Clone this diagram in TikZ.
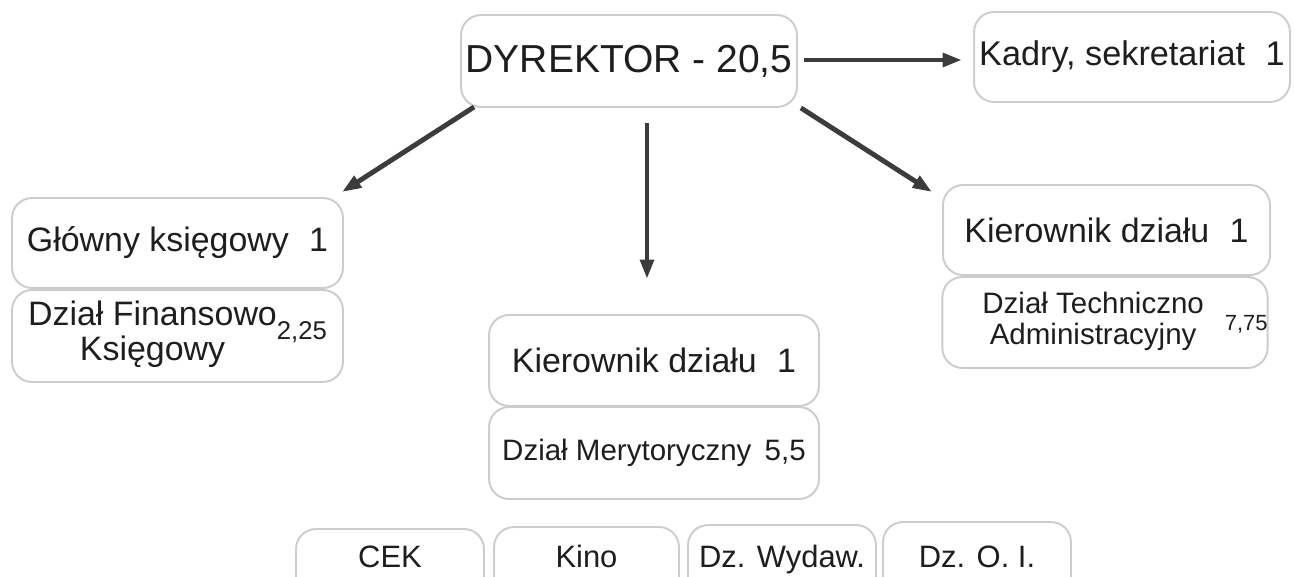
\documentclass[tikz,border=0pt]{standalone}
\usepackage{fontspec}
\setmainfont{Liberation Sans}
\usetikzlibrary{positioning}
\usetikzlibrary{arrows.meta}
\usepackage{xcolor}
\definecolor{ramka}{HTML}{CDCDCD}
\definecolor{strzalka}{HTML}{3C3C3C}
\definecolor{napis}{HTML}{1E1E1E}

\begin{document}
\begin{tikzpicture}[x=0.02cm, y=-0.02cm,
    orgbox/.style={draw=ramka, line width=1.1pt, rounded corners=0.4cm, fill=white, text=napis, inner sep=0pt},
    smallbox/.style={orgbox, minimum width=3.76cm, text height=0.72em, text depth=0.22em, font=\fontsize{17.6}{19}\selectfont},
    link/.style={-{Triangle[length=11pt,width=7.5pt]}, line width=2.8pt, draw=strzalka}]
            % Organisation chart of the institution
            \useasboundingbox (0,0) rectangle (1295,577);
            \clip (0,0) rectangle (1295,577);

            \node[orgbox, minimum width=6.72cm, minimum height=1.84cm, font=\fontsize{22.2}{24}\selectfont] (dyr) at (629,61) {DYREKTOR - 20,5};
            \node[orgbox, minimum width=6.32cm, minimum height=1.8cm, font=\fontsize{19.5}{21}\selectfont] (kadry) at (1132,57) {Kadry, sekretariat\hspace{0.6em}1};

            \node[orgbox, minimum width=6.62cm, minimum height=1.8cm, font=\fontsize{19.3}{20}\selectfont] (glowny) at (177.5,243) {Główny księgowy\hspace{0.6em}1};
            \node[orgbox, minimum width=6.62cm, minimum height=1.84cm, font=\fontsize{19.3}{20}\selectfont] (finans) at (177.5,336) {\begin{tabular}{@{}c@{}}Dział Finansowo\\Księgowy\end{tabular}\raisebox{3pt}{\fontsize{14.6}{16}\selectfont 2,25}};

            \node[orgbox, minimum width=6.6cm, minimum height=1.82cm, font=\fontsize{19.3}{20}\selectfont] (kierM) at (654,360.5) {Kierownik działu\hspace{0.6em}1};
            \node[orgbox, minimum width=6.6cm, minimum height=1.84cm, font=\fontsize{16.8}{18}\selectfont] (meryt) at (654,453) {Dział Merytoryczny\hspace{0.45em}5,5};

            \node[orgbox, minimum width=6.54cm, minimum height=1.8cm, font=\fontsize{19.3}{20}\selectfont] (kierT) at (1106.5,230) {Kierownik działu\hspace{0.6em}1};
            \node[orgbox, minimum width=6.48cm, minimum height=1.82cm, font=\fontsize{16.8}{17.6}\selectfont] (techn) at (1105,322.5) {\hspace*{0.8cm}\begin{tabular}{@{}c@{}}Dział Techniczno\\Administracyjny\end{tabular}\hspace{0.42cm}{\fontsize{12.5}{14}\selectfont 7,75}};

            \node[smallbox, minimum height=1.36cm] (cek) at (390,563) {CEK};
            \node[smallbox, minimum width=3.7cm, minimum height=1.44cm] (kino) at (586.5,563) {Kino};
            \node[smallbox, minimum height=1.52cm] (wydaw) at (782,563) {Dz. Wydaw.};
            \node[smallbox, minimum height=1.64cm] (oi) at (977,563) {Dz. O. I.};

            \draw[link] ([shift={(6,-1)}]dyr.east) -- ([shift={(-11,3)}]kadry.west);
            \draw[link] ([shift={(14,-1)}]dyr.south west) -- ([shift={(-2,-5)}]glowny.north east);
            \draw[link] ([shift={(18,15)}]dyr.south) -- ([shift={(-7,-35)}]kierM.north);
            \draw[link] ([shift={(3,0)}]dyr.south east) -- ([shift={(-10,8)}]kierT.north west);
        \end{tikzpicture}
\end{document}
